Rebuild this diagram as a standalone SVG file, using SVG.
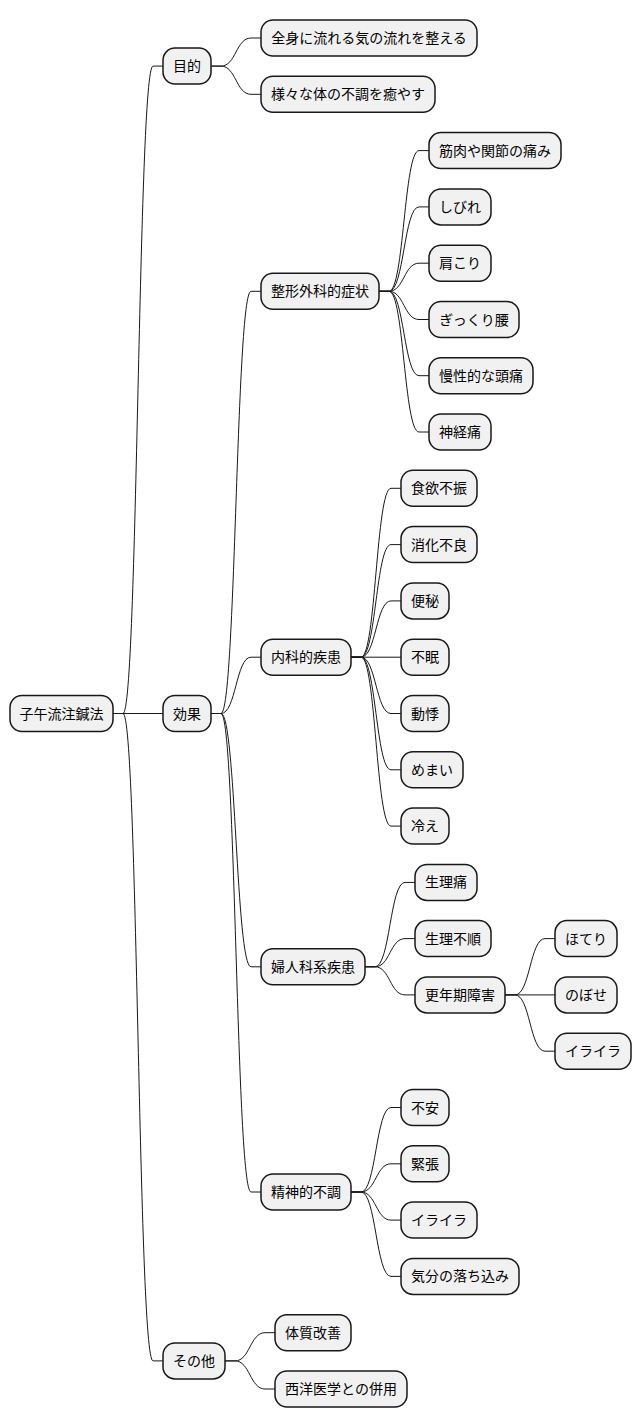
<svg xmlns="http://www.w3.org/2000/svg" width="642" height="1428" viewBox="0 0 642 1428">
<style>
.n rect{fill:#F1F1F1;stroke:#181818;stroke-width:1.5}
.n text{font-family:"Noto Sans CJK JP","Noto Sans",sans-serif;font-size:14px;fill:#000;text-anchor:middle}
.e path{fill:none;stroke:#181818;stroke-width:1}
</style>
<rect width="642" height="1428" fill="#fff"/>
<g id="connectors" class="e">
<path d="M113,713.5 H123 C138,713.5 138,66.1 153,66.1 H163"/>
<path d="M113,713.5 H163"/>
<path d="M113,713.5 H123 C138,713.5 138,1360.9 153,1360.9 H163"/>
<path d="M211,66.1 H221 C236,66.1 236,38 251,38 H261"/>
<path d="M211,66.1 H221 C236,66.1 236,94.3 251,94.3 H261"/>
<path d="M211,713.5 H221 C236,713.5 236,291.3 251,291.3 H261"/>
<path d="M211,713.5 H221 C236,713.5 236,657.2 251,657.2 H261"/>
<path d="M211,713.5 H221 C236,713.5 236,966.8 251,966.8 H261"/>
<path d="M211,713.5 H221 C236,713.5 236,1192 251,1192 H261"/>
<path d="M225,1360.9 H235 C250,1360.9 250,1332.7 265,1332.7 H275"/>
<path d="M225,1360.9 H235 C250,1360.9 250,1389 265,1389 H275"/>
<path d="M379,291.3 H389 C404,291.3 404,150.6 419,150.6 H429"/>
<path d="M379,291.3 H389 C404,291.3 404,206.9 419,206.9 H429"/>
<path d="M379,291.3 H389 C404,291.3 404,263.2 419,263.2 H429"/>
<path d="M379,291.3 H389 C404,291.3 404,319.5 419,319.5 H429"/>
<path d="M379,291.3 H389 C404,291.3 404,375.7 419,375.7 H429"/>
<path d="M379,291.3 H389 C404,291.3 404,432 419,432 H429"/>
<path d="M351,657.2 H361 C376,657.2 376,488.3 391,488.3 H401"/>
<path d="M351,657.2 H361 C376,657.2 376,544.6 391,544.6 H401"/>
<path d="M351,657.2 H361 C376,657.2 376,600.9 391,600.9 H401"/>
<path d="M351,657.2 H401"/>
<path d="M351,657.2 H361 C376,657.2 376,713.5 391,713.5 H401"/>
<path d="M351,657.2 H361 C376,657.2 376,769.8 391,769.8 H401"/>
<path d="M351,657.2 H361 C376,657.2 376,826.1 391,826.1 H401"/>
<path d="M365,966.8 H375 C390,966.8 390,882.4 405,882.4 H415"/>
<path d="M365,966.8 H375 C390,966.8 390,938.6 405,938.6 H415"/>
<path d="M365,966.8 H375 C390,966.8 390,994.9 405,994.9 H415"/>
<path d="M505,994.9 H515 C530,994.9 530,938.6 545,938.6 H555"/>
<path d="M505,994.9 H555"/>
<path d="M505,994.9 H515 C530,994.9 530,1051.2 545,1051.2 H555"/>
<path d="M351,1192 H361 C376,1192 376,1107.5 391,1107.5 H401"/>
<path d="M351,1192 H361 C376,1192 376,1163.8 391,1163.8 H401"/>
<path d="M351,1192 H361 C376,1192 376,1220.1 391,1220.1 H401"/>
<path d="M351,1192 H361 C376,1192 376,1276.4 391,1276.4 H401"/>
</g>
<g id="root" class="n"><rect x="10" y="695.5" width="103" height="36" rx="12"/><text x="61.5" y="718.5">子午流注鍼法</text></g>
<g id="mokuteki" class="n"><rect x="163" y="48.1" width="48" height="36" rx="12"/><text x="187" y="71.1">目的</text></g>
<g id="kouka" class="n"><rect x="163" y="695.5" width="48" height="36" rx="12"/><text x="187" y="718.5">効果</text></g>
<g id="sonota" class="n"><rect x="163" y="1342.9" width="62" height="36" rx="12"/><text x="194" y="1365.9">その他</text></g>
<g id="zenshin" class="n"><rect x="261" y="20" width="216" height="36" rx="12"/><text x="369" y="43">全身に流れる気の流れを整える</text></g>
<g id="samazama" class="n"><rect x="261" y="76.3" width="174" height="36" rx="12"/><text x="348" y="99.3">様々な体の不調を癒やす</text></g>
<g id="seikei" class="n"><rect x="261" y="273.3" width="118" height="36" rx="12"/><text x="320" y="296.3">整形外科的症状</text></g>
<g id="naika" class="n"><rect x="261" y="639.2" width="90" height="36" rx="12"/><text x="306" y="662.2">内科的疾患</text></g>
<g id="fujinka" class="n"><rect x="261" y="948.8" width="104" height="36" rx="12"/><text x="313" y="971.8">婦人科系疾患</text></g>
<g id="seishin" class="n"><rect x="261" y="1174" width="90" height="36" rx="12"/><text x="306" y="1197">精神的不調</text></g>
<g id="taishitsu" class="n"><rect x="275" y="1314.7" width="76" height="36" rx="12"/><text x="313" y="1337.7">体質改善</text></g>
<g id="seiyou" class="n"><rect x="275" y="1371" width="132" height="36" rx="12"/><text x="341" y="1394">西洋医学との併用</text></g>
<g id="kinniku" class="n"><rect x="429" y="132.6" width="132" height="36" rx="12"/><text x="495" y="155.6">筋肉や関節の痛み</text></g>
<g id="shibire" class="n"><rect x="429" y="188.9" width="62" height="36" rx="12"/><text x="460" y="211.9">しびれ</text></g>
<g id="katakori" class="n"><rect x="429" y="245.2" width="62" height="36" rx="12"/><text x="460" y="268.2">肩こり</text></g>
<g id="gikkuri" class="n"><rect x="429" y="301.5" width="90" height="36" rx="12"/><text x="474" y="324.5">ぎっくり腰</text></g>
<g id="manseizutsuu" class="n"><rect x="429" y="357.7" width="104" height="36" rx="12"/><text x="481" y="380.7">慢性的な頭痛</text></g>
<g id="shinkeitsuu" class="n"><rect x="429" y="414" width="62" height="36" rx="12"/><text x="460" y="437">神経痛</text></g>
<g id="shokuyoku" class="n"><rect x="401" y="470.3" width="76" height="36" rx="12"/><text x="439" y="493.3">食欲不振</text></g>
<g id="shouka" class="n"><rect x="401" y="526.6" width="76" height="36" rx="12"/><text x="439" y="549.6">消化不良</text></g>
<g id="benpi" class="n"><rect x="401" y="582.9" width="48" height="36" rx="12"/><text x="425" y="605.9">便秘</text></g>
<g id="fumin" class="n"><rect x="401" y="639.2" width="48" height="36" rx="12"/><text x="425" y="662.2">不眠</text></g>
<g id="douki" class="n"><rect x="401" y="695.5" width="48" height="36" rx="12"/><text x="425" y="718.5">動悸</text></g>
<g id="memai" class="n"><rect x="401" y="751.8" width="62" height="36" rx="12"/><text x="432" y="774.8">めまい</text></g>
<g id="hie" class="n"><rect x="401" y="808.1" width="48" height="36" rx="12"/><text x="425" y="831.1">冷え</text></g>
<g id="seiritsuu" class="n"><rect x="415" y="864.4" width="62" height="36" rx="12"/><text x="446" y="887.4">生理痛</text></g>
<g id="seirifujun" class="n"><rect x="415" y="920.6" width="76" height="36" rx="12"/><text x="453" y="943.6">生理不順</text></g>
<g id="kounenki" class="n"><rect x="415" y="976.9" width="90" height="36" rx="12"/><text x="460" y="999.9">更年期障害</text></g>
<g id="hoteri" class="n"><rect x="555" y="920.6" width="62" height="36" rx="12"/><text x="586" y="943.6">ほてり</text></g>
<g id="nobose" class="n"><rect x="555" y="976.9" width="62" height="36" rx="12"/><text x="586" y="999.9">のぼせ</text></g>
<g id="iraira1" class="n"><rect x="555" y="1033.2" width="76" height="36" rx="12"/><text x="593" y="1056.2">イライラ</text></g>
<g id="fuan" class="n"><rect x="401" y="1089.5" width="48" height="36" rx="12"/><text x="425" y="1112.5">不安</text></g>
<g id="kinchou" class="n"><rect x="401" y="1145.8" width="48" height="36" rx="12"/><text x="425" y="1168.8">緊張</text></g>
<g id="iraira2" class="n"><rect x="401" y="1202.1" width="76" height="36" rx="12"/><text x="439" y="1225.1">イライラ</text></g>
<g id="kibun" class="n"><rect x="401" y="1258.4" width="118" height="36" rx="12"/><text x="460" y="1281.4">気分の落ち込み</text></g>
</svg>
